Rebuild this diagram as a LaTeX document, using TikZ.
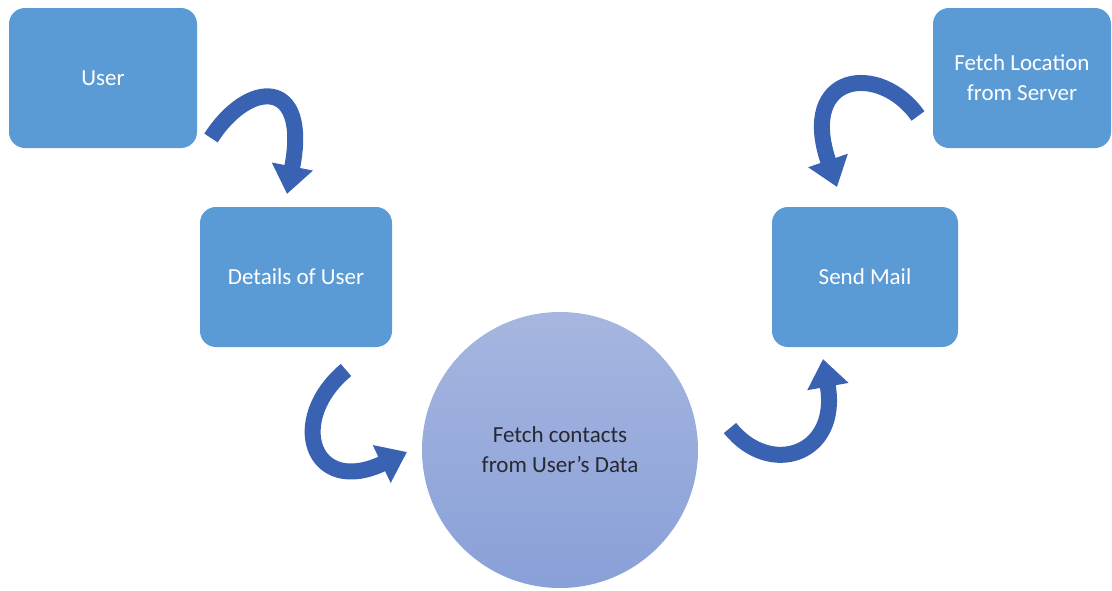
\documentclass[tikz,border=0pt]{standalone}
\usepackage{fontspec}
\setmainfont{Carlito}
\usetikzlibrary{arrows.meta}
\definecolor{boxblue}{RGB}{91,155,213}
\definecolor{arrowblue}{RGB}{58,98,178}
\definecolor{circtop}{RGB}{166,182,224}
\definecolor{circbot}{RGB}{137,160,216}
\definecolor{circtext}{RGB}{40,40,50}
\tikzset{
  stepbox/.style={draw=none, fill=boxblue, rounded corners=16pt, minimum width=188pt, minimum height=140pt, inner sep=0pt, text=white, font=\fontsize{23}{30}\selectfont, align=center},
  bigarrow/.style={draw=arrowblue, line width=16pt, -{Triangle[length=28pt,width=40pt]}},
  hub/.style={circle, minimum size=276pt, inner sep=0pt, top color=circtop, bottom color=circbot, draw=none, text=circtext, font=\fontsize{23}{30}\selectfont, align=center}
}
\begin{document}
\begin{tikzpicture}[x=1pt,y=-1pt]
\useasboundingbox (0,0) rectangle (1112,590);
\node[stepbox] (user) at (103,78) {User};
\node[stepbox, minimum width=192pt] (details) at (296,277) {Details of User};
\node[stepbox, minimum width=178pt] (loc) at (1022,78) {Fetch Location\\from Server};
\node[stepbox, minimum width=186pt] (mail) at (865,277) {Send Mail};
\node[hub] (hub) at (560,450) {Fetch contacts\\from User’s Data};
\coordinate (a1s) at (211,138);
\coordinate (a1e) at (287,194);
\coordinate (a2s) at (918,116);
\coordinate (a2e) at (837,187);
\coordinate (a3s) at (346,370);
\coordinate (a3e) at (407,452);
\coordinate (a4s) at (730,428);
\coordinate (a4e) at (823,359);
\draw[bigarrow] (a1s) .. controls (248,80) and (310,76) .. (a1e);
\draw[bigarrow] (a2s) .. controls (880,62) and (798,72) .. (a2e);
\draw[bigarrow] (a3s) .. controls (286,420) and (312,497) .. (a3e);
\draw[bigarrow] (a4s) .. controls (770,478) and (840,455) .. (a4e);
\end{tikzpicture}
\end{document}
